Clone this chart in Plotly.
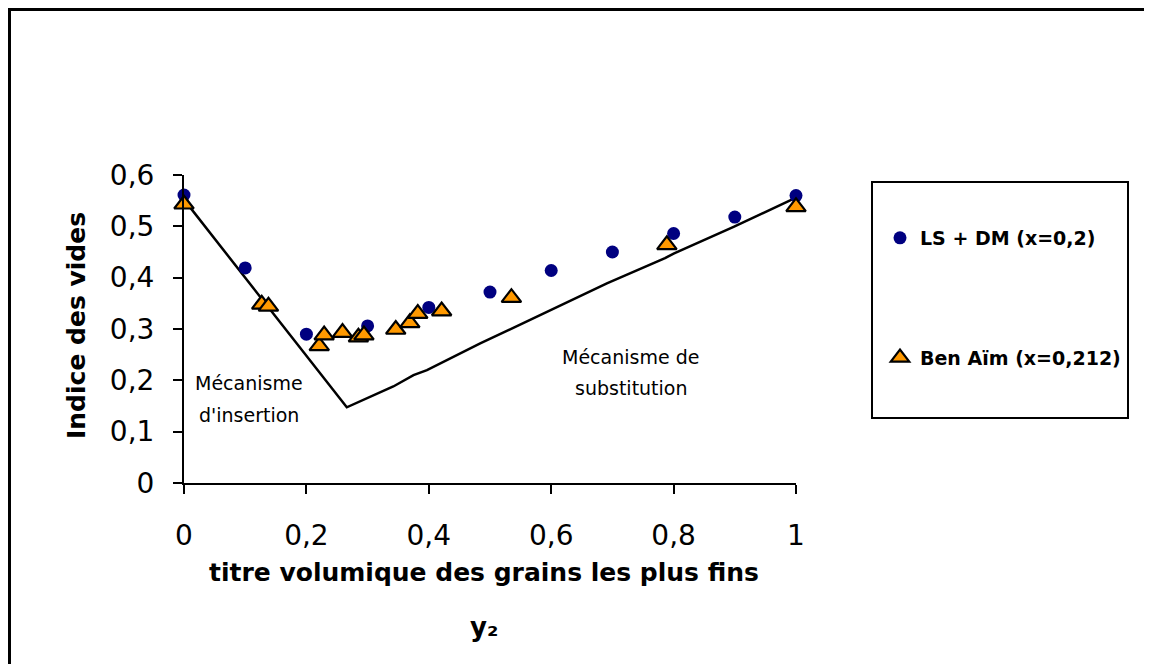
import plotly.graph_objects as go

# LS + DM (x=0,2)
ls_x = [0, 0.1, 0.2, 0.3, 0.4, 0.5, 0.6, 0.7, 0.8, 0.9, 1.0]
ls_y = [0.561, 0.419, 0.290, 0.306, 0.342, 0.372, 0.414, 0.450, 0.486, 0.518, 0.560]

# Ben Aïm (x=0,212)
ba_x = [0.0, 0.127, 0.138, 0.221, 0.229, 0.259, 0.285, 0.294, 0.346, 0.369, 0.382, 0.421, 0.535, 0.789, 1.0]
ba_y = [0.543, 0.348, 0.344, 0.267, 0.288, 0.293, 0.284, 0.288, 0.299, 0.312, 0.330, 0.335, 0.361, 0.464, 0.538]

# model curve
mod_x = [0.0, 0.266, 0.342, 0.375, 0.397, 0.484, 0.538, 0.691, 0.786, 0.80, 0.898, 0.99, 1.0]
mod_y = [0.552, 0.1475, 0.188, 0.210, 0.220, 0.272, 0.302, 0.389, 0.438, 0.447, 0.499, 0.551, 0.556]

x_ticks = [0, 0.2, 0.4, 0.6, 0.8, 1]
y_ticks = [0, 0.1, 0.2, 0.3, 0.4, 0.5, 0.6]

FONT = "DejaVu Sans"

# the page adds an 8px body margin; work in page pixels and shift
OX, OY = 8, 8
W, H = 1144, 656
# plot area in page pixels
L, R, T, B = 184, 796, 175, 483


def px(xp):
    return (xp - L) / (R - L)


def py(yp):
    return (B - yp) / (B - T)


fig = go.Figure()
fig.add_trace(go.Scatter(x=mod_x, y=mod_y, mode="lines", line=dict(color="black", width=2.5),
                         showlegend=False, cliponaxis=False, hoverinfo="skip"))
fig.add_trace(go.Scatter(x=ls_x, y=ls_y, mode="markers", name="LS + DM (x=0,2)",
                         legendgroup="a", cliponaxis=False,
                         marker=dict(symbol="circle", size=13, color="#000080")))
fig.add_trace(go.Scatter(x=ba_x, y=ba_y, mode="markers", name="Ben Aïm (x=0,212)",
                         legendgroup="b", cliponaxis=False,
                         marker=dict(symbol="triangle-up", size=17, color="#FF9900",
                                     line=dict(color="black", width=2.2))))

annots = [
    dict(text="Mécanisme", x=249, y=383),
    dict(text="d'insertion", x=249, y=415),
    dict(text="Mécanisme de", x=630, y=357),
    dict(text="substitution", x=631, y=388),
]
annotations = []
for a in annots:
    annotations.append(dict(text=a["text"], x=px(a["x"]), y=py(a["y"]), xref="paper", yref="paper",
                            showarrow=False, xanchor="center", yanchor="middle",
                            font=dict(family=FONT, size=19, color="black")))
annotations.append(dict(text="<b>titre volumique des grains les plus fins</b>", x=px(484), y=py(572),
                        xref="paper", yref="paper", showarrow=False, xanchor="center", yanchor="middle",
                        font=dict(family=FONT, size=25, color="black")))
annotations.append(dict(text="<b>y₂</b>", x=px(484), y=py(627),
                        xref="paper", yref="paper", showarrow=False, xanchor="center", yanchor="middle",
                        font=dict(family=FONT, size=26, color="black")))
annotations.append(dict(text="<b>Indice des vides</b>", x=px(76), y=py(326), textangle=-90,
                        xref="paper", yref="paper", showarrow=False, xanchor="center", yanchor="middle",
                        font=dict(family=FONT, size=25, color="black")))

shapes = [
    # outer frame (top and left visible)
    dict(type="line", xref="paper", yref="paper", x0=px(8.5), x1=px(1170), y0=py(9.5), y1=py(9.5),
         line=dict(color="black", width=3)),
    dict(type="line", xref="paper", yref="paper", x0=px(9.5), x1=px(9.5), y0=py(8), y1=py(690),
         line=dict(color="black", width=3)),
    # legend box
    dict(type="rect", xref="paper", yref="paper", x0=px(872), x1=px(1128), y0=py(182), y1=py(418),
         line=dict(color="black", width=2)),
]

fig.update_layout(
    width=W, height=H,
    margin=dict(l=L - OX, r=(W + OX) - R, t=T - OY, b=(H + OY) - B),
    paper_bgcolor="white", plot_bgcolor="white",
    separators=", ",
    font=dict(family=FONT, color="black"),
    xaxis=dict(range=[0, 1], tickvals=x_ticks, ticks="outside", ticklen=9, tickwidth=2,
               tickcolor="black", showline=True, linecolor="black", linewidth=2,
               showgrid=False, zeroline=False, tickfont=dict(family=FONT, size=28),
               ticklabelstandoff=17),
    yaxis=dict(range=[0, 0.6], tickvals=y_ticks, ticks="outside", ticklen=9, tickwidth=2,
               tickcolor="black", showline=True, linecolor="black", linewidth=2,
               showgrid=False, zeroline=False, tickfont=dict(family=FONT, size=28),
               ticklabelstandoff=13),
    showlegend=True,
    legend=dict(x=px(880), y=py(219), xanchor="left", yanchor="top", traceorder="grouped",
                tracegroupgap=92, bgcolor="rgba(0,0,0,0)", borderwidth=0,
                font=dict(family=FONT, size=19, color="black", weight="bold")),
    annotations=annotations,
    shapes=shapes,
)

fig.write_html("out.html")
